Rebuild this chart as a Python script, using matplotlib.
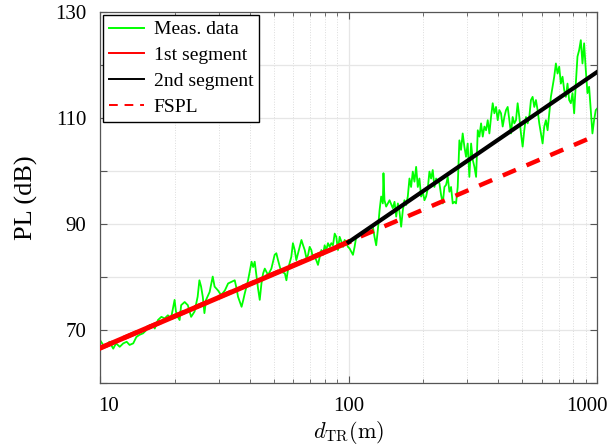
import numpy as np
import matplotlib
matplotlib.use("Agg")
import matplotlib.pyplot as plt
from matplotlib.ticker import NullFormatter
from matplotlib.transforms import ScaledTranslation

plt.rcParams['font.family'] = ['Liberation Serif', 'DejaVu Serif']
plt.rcParams['mathtext.fontset'] = 'cm'

meas_d = [10.0, 10.3, 10.6, 10.9, 11.3, 11.6, 12.0, 12.4, 12.8, 13.15, 13.6, 14.0,
          14.4, 14.9, 15.35, 15.8, 16.3, 16.6, 17.1, 17.65, 18.2, 18.75, 19.3, 19.95,
          20.2, 20.55, 20.9, 21.2, 21.9, 22.55, 23.25, 24.0, 24.7, 25.1, 25.5, 25.9,
          26.3, 26.7, 27.6, 28.4, 28.9, 29.8, 30.7,
          31.8, 32.75, 33.77, 34.82, 35.4, 35.9, 37.1, 37.7, 38.2, 39.4, 40.7, 41.3,
          41.9, 42.6, 43.2, 43.9, 44.6, 45.3, 46.0, 46.7, 47.4, 48.9, 50.4, 51.2,
          52.0, 52.9, 53.7, 55.4, 56.2, 57.1, 58.8, 59.7, 60.7, 61.6, 62.6, 64.6,
          65.6, 66.6, 67.7, 68.7, 69.7, 70.8, 71.9, 73.0, 74.1, 75.3, 76.5, 77.7,
          78.9, 80.1, 81.3, 82.6, 83.9, 85.2, 86.5, 87.9, 89.2, 90.6, 92.0, 93.5,
          95.0, 96.4, 97.9, 99.4,
          100.9, 104.1, 105.7, 107.3, 110.7, 114.2, 117.7, 121.4, 125.2, 127.1, 129.1,
          131.1, 133.2, 135.2, 137.3, 138.1, 139.4, 141.6, 146.1, 150.6, 153.0, 155.4,
          157.8, 160.2, 162.7, 165.2, 167.7, 170.4, 173.0, 175.7, 178.4, 181.2, 184.0,
          186.9, 189.8, 192.7, 195.7, 198.8, 201.9, 205.0, 208.2, 211.4, 214.7, 218.0,
          221.4, 224.9, 231.9, 235.5, 239.2, 242.9, 246.7, 250.5, 254.4, 258.3, 262.3,
          266.4, 270.5, 274.7, 279.0, 283.3, 287.7, 292.2, 296.7, 301.3, 306.0,
          311.0, 315.8, 320.7, 325.7, 328.7, 330.8, 335.9, 341.1, 346.4, 351.8, 357.2,
          362.8, 368.4, 374.1, 379.9, 385.8, 391.8, 397.9, 404.0, 410.3, 416.7, 423.2,
          429.7, 436.4, 443.2, 450.1, 457.0, 464.1, 471.3, 478.6, 486.1, 493.6, 501.3,
          509.0, 517.0, 525.0, 533.1, 541.4, 549.8, 558.4, 567.0, 575.8, 584.8, 593.8,
          603.1, 612.4, 621.9, 631.6, 641.4, 651.3, 661.4, 671.7, 682.1, 692.7, 703.4,
          714.3, 725.4, 736.6, 748.1, 759.6, 771.4, 783.4, 795.5, 807.9, 820.4, 833.1,
          846.0, 859.2, 872.5, 886.0, 899.8, 913.7, 927.9, 942.3, 956.9, 971.7, 986.8,
          1000.0]
meas_pl = [68.1, 67.2, 66.85, 67.8, 66.5, 67.5, 66.85, 67.5, 67.8, 67.2, 67.5, 68.7,
           69.1, 69.4, 70.0, 70.9, 70.9, 70.3, 71.9, 72.5, 72.2, 72.8, 72.2, 75.7,
           73.5, 72.5, 71.9, 74.7, 75.3, 74.7, 72.5, 73.5, 76.3, 79.4, 78.2, 76.3,
           73.2, 75.7, 77.2, 80.1, 78.2, 77.5, 76.6,
           77.5, 78.8, 79.1, 79.4, 77.9, 76.3, 74.4, 75.7, 76.9, 79.4, 82.9, 81.9,
           82.9, 80.1, 77.9, 75.7, 78.8, 80.7, 81.6, 81.0, 80.4, 81.6, 84.2, 84.5,
           83.2, 81.9, 81.0, 80.7, 79.4, 81.6, 83.8, 86.4, 85.1, 83.2, 84.5, 87.0,
           86.0, 85.1, 83.5, 84.2, 85.7, 85.1, 83.5, 83.8, 83.2, 82.3, 83.8, 85.1,
           84.2, 86.0, 85.1, 86.4, 85.7, 86.4, 86.0, 88.2, 87.6, 85.1, 87.6, 86.7,
           85.7, 87.0, 86.4, 85.7,
           85.4, 84.2, 85.7, 87.6, 87.9, 88.2, 88.9, 89.2, 89.5, 87.6, 86.0,
           88.9, 92.6, 95.2, 93.9, 99.6, 94.5, 93.3, 94.5, 93.0, 94.2, 91.4,
           93.9, 92.3, 89.5, 92.6, 94.5, 93.6, 95.2, 98.6, 97.0, 99.9, 98.0,
           100.8, 97.0, 98.6, 95.2, 96.1, 94.5, 95.2, 96.7, 99.9, 98.6, 100.2,
           97.0, 98.6, 97.7, 95.5, 93.9, 97.0, 97.4, 98.9, 96.1, 97.0, 93.9,
           94.2, 93.9, 97.0, 105.8, 104.0, 107.1, 104.6, 102.7, 105.2, 98.9,
           105.2, 102.1, 100.8, 98.9, 104.0, 107.7, 106.5, 109.0, 106.5, 108.4, 107.7,
           109.6, 107.1, 110.2, 112.8, 110.9, 112.1, 109.6, 111.5, 110.9, 108.4, 110.2,
           111.5, 112.1, 109.6, 107.1, 110.2, 109.0, 109.6, 112.8, 110.2, 107.1, 104.6,
           107.7, 110.2, 109.0, 110.2, 113.4, 114.0, 112.1, 113.4, 111.5, 109.0, 107.1,
           105.2, 108.4, 109.6, 107.7, 110.9, 114.0, 115.9, 117.8, 120.3, 118.4, 119.7,
           116.5, 117.8, 115.3, 114.0, 116.5, 113.4, 112.8, 114.7, 110.9, 116.5, 121.6,
           122.8, 124.7, 120.3, 124.1, 119.1, 114.7, 115.9, 111.5, 107.1, 109.6, 111.5,
           111.8]

# fitted segments and free-space reference
seg1_d = [10, 100]
seg1_pl = [66.6, 86.6]
seg2_d = [100, 1000]
seg2_pl = [86.6, 118.7]
fspl_d = [10, 1000]
fspl_pl = [66.6, 106.8]

fig = plt.figure(figsize=(6.10, 4.46), dpi=100)
ax = fig.add_axes([0.164, 0.141, 0.815, 0.832])

ax.plot(meas_d, meas_pl, color='#00ff00', lw=1.3, label='Meas. data', zorder=2)
ax.plot(seg1_d, seg1_pl, color='#ff0000', lw=3.6, label='1st segment', zorder=3)
ax.plot(seg2_d, seg2_pl, color='black', lw=3.0, label='2nd segment', zorder=4)
ax.plot(fspl_d, fspl_pl, color='#ff0000', lw=3.2, ls=(0, (3.2, 2.6)), label='FSPL', zorder=2.5)

ax.set_xscale('log')
ax.set_xlim(10, 1000)
ax.set_ylim(60, 130)
ax.set_xticks([10, 100, 1000])
ax.set_xticklabels(['10', '100', '1000'])
ax.xaxis.set_minor_formatter(NullFormatter())
ax.set_yticks([60, 70, 80, 90, 100, 110, 120, 130])
ax.set_yticklabels(['', '70', '', '90', '', '110', '', '130'])

ax.grid(True, which='major', color='#e6e6e6', lw=0.9, ls='-')
ax.grid(True, which='minor', axis='x', color='#dcdcdc', lw=0.7, ls=':')
ax.set_axisbelow(True)

ax.tick_params(which='both', direction='in', top=True, right=True, colors='#555555',
               labelcolor='black', labelsize=15)
ax.tick_params(which='major', length=5, pad=10)
ax.tick_params(which='minor', length=3)
for s in ax.spines.values():
    s.set_color('#555555')
    s.set_linewidth(0.9)

# end labels sit inside the axis ends, as in the reference
xlabs = ax.get_xticklabels()
xlabs[0].set_transform(xlabs[0].get_transform() + ScaledTranslation(0.085, 0, fig.dpi_scale_trans))
xlabs[2].set_transform(xlabs[2].get_transform() + ScaledTranslation(-0.10, 0, fig.dpi_scale_trans))

ax.set_xlabel(r'$d_{\rm TR}\mathrm{(m)}$', fontsize=16, labelpad=2)
ax.set_ylabel('PL (dB)', fontsize=19, labelpad=12)

leg = ax.legend(loc='upper left', fontsize=14, fancybox=False, framealpha=1,
                edgecolor='black', borderaxespad=0.15, handlelength=1.8,
                handletextpad=0.5, borderpad=0.3, labelspacing=0.42)
leg.get_frame().set_linewidth(1.0)
for h in leg.get_lines():
    h.set_linewidth(1.4)
leg.get_lines()[3].set_linestyle((0, (4.5, 3.5)))

fig.savefig('out.png', dpi=100)
